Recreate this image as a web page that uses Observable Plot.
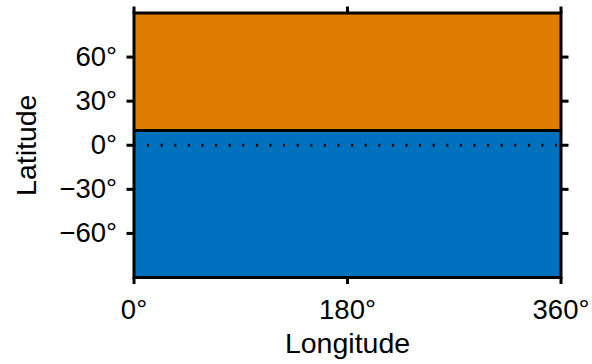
<!DOCTYPE html>
<html>
<head>
<meta charset="utf-8">
<script src="https://cdn.jsdelivr.net/npm/d3@7"></script>
<script src="https://cdn.jsdelivr.net/npm/@observablehq/plot@0.6"></script>
<style>
  html, body { margin: 0; padding: 0; background: #fff; }
  #chart svg { display: block; }
</style>
</head>
<body>
<div id="chart"></div>
<script>
// Two latitude bands across the full longitude range
const bandNames = ["north", "south"];
const bandLatFrom = [10, -90];
const bandLatTo = [90, 10];
const bandColors = ["#DE7D00", "#0072BD"];

const boundaryLat = [10];
const equatorLat = [0];

const xTicks = [0, 180, 360];
const yTicks = [-60, -30, 0, 30, 60];

const xTitle = "Longitude";
const yTitle = "Latitude";

const bands = bandNames.map((name, i) => ({
  name, lat1: bandLatFrom[i], lat2: bandLatTo[i], color: bandColors[i]
}));

const deg = d => `${d < 0 ? "\u2212" : ""}${Math.abs(d)}°`;
const font = "Liberation Sans, Helvetica, Arial, sans-serif";
const size = 27.5;

const chart = Plot.plot({
  width: 592,
  height: 364,
  marginLeft: 133.5,
  marginRight: 31.5,
  marginTop: 12.5,
  marginBottom: 87,
  style: { fontFamily: font, fontSize: `${size}px`, color: "black", background: "white" },
  x: { domain: [0, 360] },
  y: { domain: [-90, 90] },
  marks: [
    Plot.rect(bands, { x1: 0, x2: 360, y1: "lat1", y2: "lat2", fill: "color" }),
    Plot.ruleY(boundaryLat, { stroke: "black", strokeWidth: 3 }),
    Plot.ruleY(equatorLat, { stroke: "black", strokeWidth: 3, strokeDasharray: "2 11.6" }),
    Plot.frame({ stroke: "black", strokeWidth: 3 }),
    Plot.axisX({ anchor: "bottom", ticks: xTicks, tickFormat: deg, tickSize: 7, tickPadding: 15,
      strokeWidth: 3, fontSize: size, label: null }),
    Plot.axisX({ anchor: "top", ticks: xTicks, tickFormat: () => "", tickSize: 7, strokeWidth: 3, label: null }),
    Plot.axisY({ anchor: "left", ticks: yTicks, tickFormat: deg, tickSize: 7, tickPadding: 10,
      strokeWidth: 3, fontSize: size, label: null }),
    Plot.axisY({ anchor: "right", ticks: yTicks, tickFormat: () => "", tickSize: 7, strokeWidth: 3, label: null }),
    // axis titles
    Plot.text([xTitle], { text: d => d, frameAnchor: "bottom", textAnchor: "middle", lineAnchor: "middle",
      dy: 66, fontSize: 28.5, fill: "black" }),
    Plot.text([yTitle], { text: d => d, frameAnchor: "left", textAnchor: "middle", lineAnchor: "middle",
      dx: -107, rotate: -90, fontSize: 28.5, fill: "black" })
  ]
});

document.getElementById("chart").append(chart);
</script>
</body>
</html>
